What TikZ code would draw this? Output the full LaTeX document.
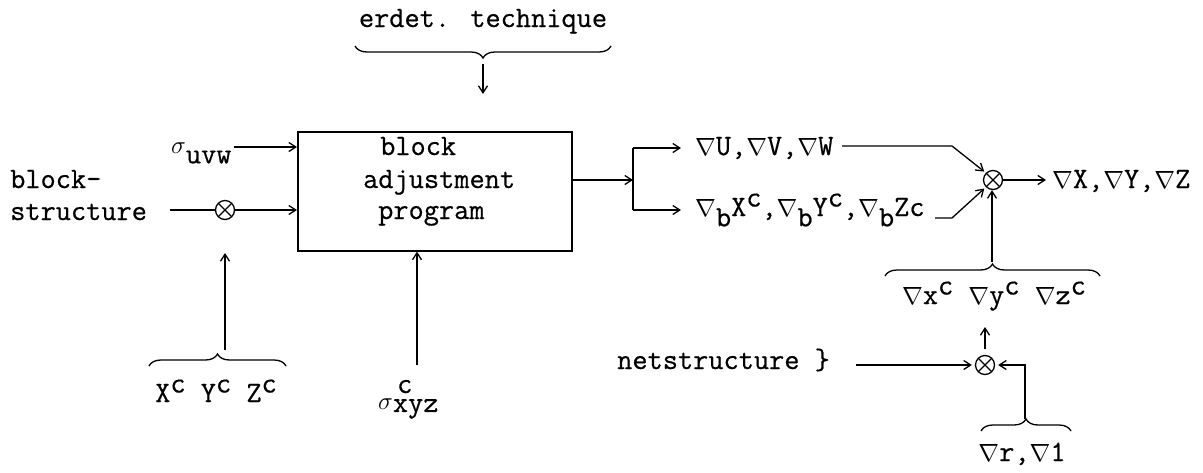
\documentclass[tikz,border=0pt]{standalone}
\usepackage{fontspec}
\setmainfont{Latin Modern Mono}[FakeBold=0.5]
\usetikzlibrary{arrows.meta,decorations.pathreplacing,calc}
\newcommand\nab{$\nabla$}
\newcommand\sig{$\sigma$}
\newcommand\hi[1]{\raisebox{0.32em}{#1}}
\newcommand\lo[1]{\raisebox{-0.35em}{#1}}
\begin{document}
\begin{tikzpicture}[x=1pt,y=-1pt,
  txt/.style={inner sep=0pt, font=\fontsize{29.5}{34}\selectfont},
  arr/.style={line width=1.3pt, -{Straight Barb[length=7pt,width=9pt]}},
  ln/.style={line width=1.3pt},
  brc/.style={line width=1.3pt, decorate, decoration={brace, amplitude=12pt}},
  otimes/.style={circle, draw, line width=1.3pt, minimum size=19pt, inner sep=0pt,
    path picture={\draw[line width=1.3pt]
      (path picture bounding box.north west) -- (path picture bounding box.south east)
      (path picture bounding box.north east) -- (path picture bounding box.south west);}}]
\useasboundingbox (0,0) rectangle (1203,472);

% top input
\node[txt, anchor=base] (title) at (483,27) {erdet. technique};
\draw[brc] (611,46) -- (355,46);
\coordinate (ttip) at (483,64);
\coordinate (tend) at (483,94);
\draw[arr] (ttip) -- (tend);

% program box
\node[draw, line width=1.6pt, minimum width=274pt, minimum height=119pt, inner sep=0pt,
  anchor=north west] (box) at (297,131) {};
\node[txt, anchor=base west] (b1) at (380,155) {block};
\node[txt, anchor=base west] (b2) at (363,188) {adjustment};
\node[txt, anchor=base west] (b3) at (378,219) {program};

% left inputs
\node[txt, anchor=base west] (suvw) at (171,153) {\sig\lo{uvw}};
\coordinate (a1) at (234,147);
\draw[arr] (a1) -- (a1 -| box.west);
\node[txt, anchor=base west] (bs1) at (10,188) {block-};
\node[txt, anchor=base west] (bs2) at (10,220) {structure};
\node[otimes] (o0) at (225,210) {};
\coordinate (bsl) at (170,210);
\draw[ln] (bsl) -- (o0.west);
\draw[arr] (o0.east) -- (o0.east -| box.west);
\draw[brc] (149,366) -- (286,366);
\node[txt, anchor=base] (xyz) at (216,402) {X\hi{c} Y\hi{c} Z\hi{c}};
\coordinate (xtip) at (225,350);
\coordinate (xend) at (225,253);
\draw[arr] (xtip) -- (xend);

% sigma xyz
\node[txt, anchor=base west] (sxyz) at (378,409) {\sig\raisebox{-0.1em}{xyz}};
\node[txt, anchor=base west] (sxc) at (397,393) {c};
\coordinate (sx) at (417,365);
\draw[arr] (sx) -- (sx |- box.south);

% outputs
\coordinate (jn) at (633,180);
\coordinate (ju) at (633,148);
\coordinate (jd) at (633,210);
\draw[arr] (box.east |- jn) -- (jn);
\draw[ln] (ju) -- (jd);
\node[txt, anchor=base west] (tU) at (695,155) {\nab U,\nab V,\nab W};
\node[txt, anchor=base west] (tB) at (695,216) {\nab\lo{b}X\hi{c},\nab\lo{b}Y\hi{c},\nab\lo{b}Zc};
\coordinate (ue) at (681,148);
\coordinate (de) at (681,210);
\draw[arr] (ju) -- (ue);
\draw[arr] (jd) -- (de);

\node[otimes] (o1) at (993,180) {};
\coordinate (u1) at (842,146);
\coordinate (u2) at (952,146);
\coordinate (l1) at (935,218);
\coordinate (l2) at (952,218);
\draw[arr, shorten >=2pt] (u1) -- (u2) -- (o1.north west);
\draw[arr, shorten >=2pt] (l1) -- (l2) -- (o1.south west);
\coordinate (oe) at (1046,180);
\draw[arr] (o1.east) -- (oe);
\node[txt, anchor=base west] (tXYZ) at (1052,188) {\nab X,\nab Y,\nab Z};

\draw[brc] (885,276) -- (1100,276);
\coordinate (vtip) at (992,262);
\draw[arr] (vtip) -- (vtip |- o1.south);
\node[txt, anchor=base] (tx) at (994,304) {\nab x\hi{c} \nab y\hi{c} \nab z\hi{c}};

\node[otimes] (o2) at (985,365) {};
\coordinate (o2t) at (985,327);
\draw[arr] ($(o2.north)+(0,-6)$) -- (o2t);
\node[txt, anchor=base west] (net) at (617,369) {netstructure \}};
\coordinate (ns) at (856,365);
\draw[arr, shorten >=3pt] (ns) -- (o2.west);
\draw[brc] (981,431) -- (1071,431);
\coordinate (rtip) at (1025,419);
\coordinate (rc) at (1025,365);
\draw[arr, shorten >=3pt] (rtip) -- (rc) -- (o2.east);
\node[txt, anchor=base] (tr) at (1022,461) {\nab r,\nab 1};
\end{tikzpicture}
\end{document}
